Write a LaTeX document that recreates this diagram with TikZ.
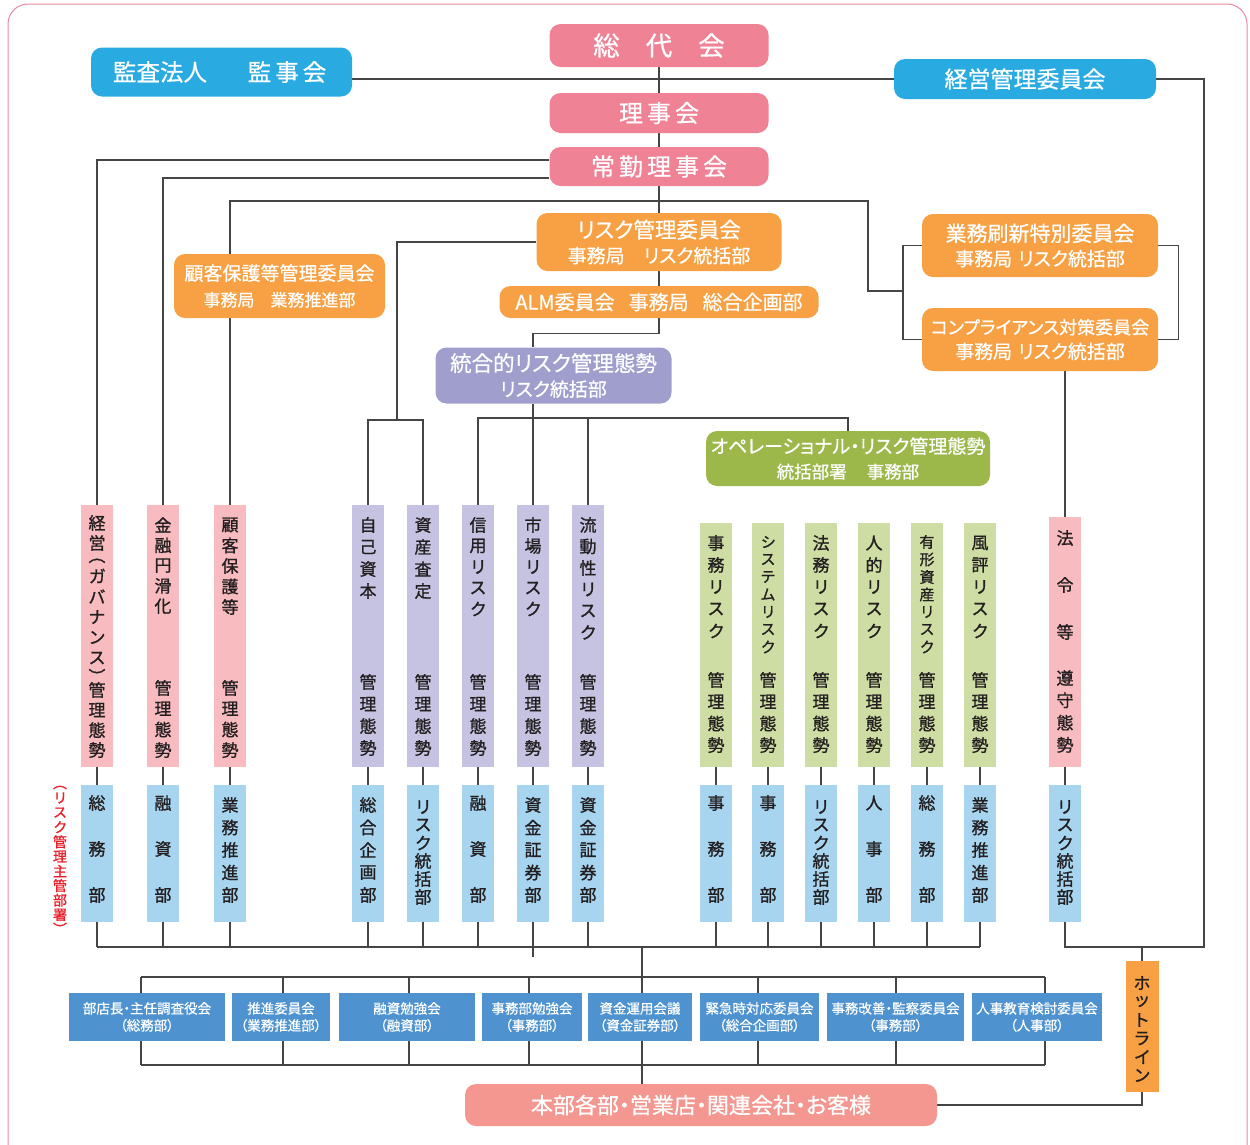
\documentclass[tikz,border=0pt]{standalone}
\usepackage{fontspec}
\setmainfont{Noto Sans CJK JP}[RawFeature=+palt,FakeBold=0.6]
\newfontfamily\vfam{Noto Sans CJK JP}[RawFeature=+palt,FakeBold=1.1]
\usetikzlibrary{backgrounds}
\definecolor{hpink}{HTML}{F08296}
\definecolor{hblue}{HTML}{29ABE2}
\definecolor{horange}{HTML}{F7A144}
\definecolor{hpurple}{HTML}{A09ECD}
\definecolor{hgreen}{HTML}{9CB84B}
\definecolor{cpink}{HTML}{F8BCC0}
\definecolor{cpurple}{HTML}{C5C3E1}
\definecolor{cgreen}{HTML}{CDDDA3}
\definecolor{cblue}{HTML}{A7D5F0}
\definecolor{kblue}{HTML}{4E93CF}
\definecolor{salmon}{HTML}{F49791}
\definecolor{framec}{HTML}{E98AA0}
\definecolor{lncol}{HTML}{454545}
\definecolor{txt}{HTML}{231F20}
\definecolor{redt}{HTML}{E8202A}
\newcommand\vcs[6][]{\foreach \vc [count=\vi] in {#6}{\node[vch,#1] (#2-\vi) at (#3,{#4+(\vi-1)*#5}) {\vc};}}
\begin{document}
\begin{tikzpicture}[x=1pt,y=-1pt,
 ln/.style={draw=lncol,line width=1.2pt},
 hdr/.style={rounded corners=11pt,inner sep=0pt,text=white,align=center},
 colbox/.style={inner sep=0pt,minimum width=32.5pt},
 upk/.style={colbox,fill=cpink,minimum height=262pt},
 upu/.style={colbox,fill=cpurple,minimum height=262pt},
 ugr/.style={colbox,fill=cgreen,minimum height=244pt},
 lbl/.style={colbox,fill=cblue,minimum height=137pt},
 vch/.style={inner sep=0pt,text=txt,font=\vfam\fontsize{17}{17}\selectfont},
 vsm/.style={font=\vfam\fontsize{15}{15}\selectfont},
 vpar/.style={vch,rotate=-90},
 kbox/.style={fill=kblue,inner sep=0pt,minimum height=48pt,text=white,align=center,font=\fontsize{13.5}{17}\selectfont}]
\useasboundingbox (0,0) rectangle (1250,1144);

% ---------- header boxes ----------
\node[hdr,fill=hpink,minimum width=219pt,minimum height=43pt,font=\fontsize{26.5}{26.5}\selectfont] (sodai) at (659,45.5) {総\hspace{26pt}代\hspace{26pt}会};
\node[hdr,fill=hblue,minimum width=261pt,minimum height=49pt] (kansa) at (221.5,72) {};
\node[inner sep=0pt,text=white,font=\fontsize{23.5}{23.5}\selectfont] (kansaL) at (160,72) {監査法人};
\node[inner sep=0pt,text=white,font=\fontsize{23.5}{23.5}\selectfont] (kansaR) at (287,72) {監\hspace{4pt}事\hspace{4pt}会};
\node[hdr,fill=hblue,minimum width=262pt,minimum height=40pt,font=\fontsize{23}{23}\selectfont] (keiei) at (1025,79) {経営管理委員会};
\node[hdr,fill=hpink,minimum width=219pt,minimum height=40pt,font=\fontsize{24}{24}\selectfont] (riji) at (659,113) {理\hspace{4pt}事\hspace{4pt}会};
\node[hdr,fill=hpink,minimum width=219pt,minimum height=39pt,font=\fontsize{24}{24}\selectfont] (jokin) at (659,166.5) {常\hspace{4pt}勤\hspace{4pt}理\hspace{4pt}事\hspace{4pt}会};
\node[hdr,fill=horange,minimum width=245pt,minimum height=58pt,font=\fontsize{21.5}{25}\selectfont] (riskc) at (659,242) {リスク管理委員会\\{\fontsize{19}{25}\selectfont 事務局\hspace{19pt}リスク統括部}};
\node[hdr,fill=horange,minimum width=319pt,minimum height=32pt,font=\fontsize{20}{20}\selectfont] (alm) at (659,302) {ALM委員会\hspace{14pt}事務局\hspace{14pt}総合企画部};
\node[hdr,fill=horange,minimum width=211pt,minimum height=64pt,font=\fontsize{19}{26}\selectfont] (kokyaku) at (279.5,286) {顧客保護等管理委員会\\{\fontsize{17}{26}\selectfont 事務局\hspace{16pt}業務推進部}};
\node[hdr,fill=hpurple,minimum width=236pt,minimum height=56pt,font=\fontsize{21.5}{25}\selectfont] (togo) at (553.5,375.5) {統合的リスク管理態勢\\{\fontsize{19}{25}\selectfont リスク統括部}};
\node[hdr,fill=hgreen,minimum width=284pt,minimum height=55pt,font=\fontsize{19}{25}\selectfont] (ope) at (848,458.5) {オペレーショナル・リスク管理態勢\\{\fontsize{17.5}{25}\selectfont 統括部署\hspace{20pt}事務部}};
\node[hdr,fill=horange,minimum width=236pt,minimum height=63pt,font=\fontsize{21}{24.5}\selectfont] (gyomu) at (1040,245.5) {業務刷新特別委員会\\{\fontsize{19}{24.5}\selectfont 事務局\hspace{6pt}リスク統括部}};
\node[hdr,fill=horange,minimum width=236pt,minimum height=63pt,font=\fontsize{18}{24.5}\selectfont] (comp) at (1040,339.5) {コンプライアンス対策委員会\\{\fontsize{19}{24.5}\selectfont 事務局\hspace{6pt}リスク統括部}};
\node[hdr,fill=salmon,minimum width=472pt,minimum height=42pt,font=\fontsize{22}{22}\selectfont] (honbu) at (701,1105) {本部各部・営業店・関連会社・お客様};

% ---------- upper columns ----------
\node[upk] (u1) at (97,636) {};
\node[upk] (u2) at (163,636) {};
\node[upk] (u3) at (230,636) {};
\node[upu] (u4) at (368,636) {};
\node[upu] (u5) at (423,636) {};
\node[upu] (u6) at (478,636) {};
\node[upu] (u7) at (533,636) {};
\node[upu] (u8) at (588,636) {};
\node[ugr] (u9) at (716,645) {};
\node[ugr] (u10) at (768,645) {};
\node[ugr] (u11) at (821,645) {};
\node[ugr] (u12) at (874,645) {};
\node[ugr] (u13) at (927,645) {};
\node[ugr] (u14) at (980,645) {};
\node[colbox,fill=cpink,minimum height=250pt] (u15) at (1065,642) {};
% ---------- lower columns ----------
\foreach \i/\x in {1/97,2/163,3/230,4/368,5/423,6/478,7/533,8/588,9/716,10/768,11/821,12/874,13/927,14/980,15/1065}{\node[lbl] (l\i) at (\x,853.5) {};}

% ---------- column texts ----------
\vcs{t1a}{97}{523}{20}{経,営}
\node[vpar] (t1p) at (97,559) {（};
\vcs{t1b}{97}{576}{20.5}{ガ,バ,ナ,ン,ス}
\node[vpar] (t1q) at (97,673) {）};
\vcs{t1c}{97}{690}{20}{管,理,態,勢}
\vcs{t2a}{163}{525}{20.3}{金,融,円,滑,化}
\vcs{t2b}{163}{688}{20.7}{管,理,態,勢}
\vcs{t3a}{230}{525}{20.5}{顧,客,保,護,等}
\vcs{t3b}{230}{688}{20.7}{管,理,態,勢}
\vcs{t4a}{368}{525}{22}{自,己,資,本}
\vcs{t4b}{368}{682}{22}{管,理,態,勢}
\vcs{t5a}{423}{525}{22}{資,産,査,定}
\vcs{t5b}{423}{682}{22}{管,理,態,勢}
\vcs{t6a}{478}{525}{21}{信,用,リ,ス,ク}
\vcs{t6b}{478}{682}{22}{管,理,態,勢}
\vcs{t7a}{533}{525}{21}{市,場,リ,ス,ク}
\vcs{t7b}{533}{682}{22}{管,理,態,勢}
\vcs{t8a}{588}{525}{21.5}{流,動,性,リ,ス,ク}
\vcs{t8b}{588}{682}{22}{管,理,態,勢}
\vcs{t9a}{716}{543}{22}{事,務,リ,ス,ク}
\vcs{t9b}{716}{680}{21.7}{管,理,態,勢}
\vcs[vsm]{t10a}{768}{542}{17.5}{シ,ス,テ,ム,リ,ス,ク}
\vcs{t10b}{768}{680}{21.7}{管,理,態,勢}
\vcs{t11a}{821}{543}{22}{法,務,リ,ス,ク}
\vcs{t11b}{821}{680}{21.7}{管,理,態,勢}
\vcs{t12a}{874}{543}{22}{人,的,リ,ス,ク}
\vcs{t12b}{874}{680}{21.7}{管,理,態,勢}
\vcs[vsm]{t13a}{927}{542}{17.5}{有,形,資,産,リ,ス,ク}
\vcs{t13b}{927}{680}{21.7}{管,理,態,勢}
\vcs{t14a}{980}{543}{22}{風,評,リ,ス,ク}
\vcs{t14b}{980}{680}{21.7}{管,理,態,勢}
\vcs{t15a}{1065}{538}{47}{法,令,等}
\vcs{t15b}{1065}{678}{22.3}{遵,守,態,勢}
% lower texts
\vcs{d1}{97}{803}{46}{総,務,部}
\vcs{d2}{163}{803}{46}{融,資,部}
\vcs{d3}{230}{805}{22.5}{業,務,推,進,部}
\vcs{d4}{368}{805}{22.5}{総,合,企,画,部}
\vcs{d5}{423}{807}{18}{リ,ス,ク,統,括,部}
\vcs{d6}{478}{803}{46}{融,資,部}
\vcs{d7}{533}{805}{22.5}{資,金,証,券,部}
\vcs{d8}{588}{805}{22.5}{資,金,証,券,部}
\vcs{d9}{716}{803}{46}{事,務,部}
\vcs{d10}{768}{803}{46}{事,務,部}
\vcs{d11}{821}{807}{18}{リ,ス,ク,統,括,部}
\vcs{d12}{874}{803}{46}{人,事,部}
\vcs{d13}{927}{803}{46}{総,務,部}
\vcs{d14}{980}{805}{22.5}{業,務,推,進,部}
\vcs{d15}{1065}{807}{18}{リ,ス,ク,統,括,部}
% red side label
\node[vpar,text=redt,font=\vfam\fontsize{14}{14}\selectfont] (redL) at (60,786) {（};
\vcs[text=redt,font=\vfam\fontsize{14}{14}\selectfont]{red}{60}{798}{14.6}{リ,ス,ク,管,理,主,管,部,署}
\node[vpar,text=redt,font=\vfam\fontsize{14}{14}\selectfont] (redR) at (60,926) {）};

% ---------- bottom committee boxes ----------
\node[kbox,minimum width=156pt] (k1) at (147,1017) {部店長・主任調査役会\\（総務部）};
\node[kbox,minimum width=98pt] (k2) at (281,1017) {推進委員会\\（業務推進部）};
\node[kbox,minimum width=136pt] (k3) at (407,1017) {融資勉強会\\（融資部）};
\node[kbox,minimum width=100pt] (k4) at (532,1017) {事務部勉強会\\（事務部）};
\node[kbox,minimum width=104pt] (k5) at (640,1017) {資金運用会議\\（資金証券部）};
\node[kbox,minimum width=119pt] (k6) at (759.5,1017) {緊急時対応委員会\\（総合企画部）};
\node[kbox,minimum width=137pt] (k7) at (895.5,1017) {事務改善・監察委員会\\（事務部）};
\node[kbox,minimum width=130pt] (k8) at (1037,1017) {人事教育検討委員会\\（人事部）};

% hotline
\node[fill=horange,inner sep=0pt,minimum width=33pt,minimum height=131pt] (hot) at (1142,1026.5) {};
\vcs{hotT}{1142}{983}{18.5}{ホ,ッ,ト,ラ,イ,ン}

% ---------- helper coordinates ----------
\coordinate (y160) at (0,160);
\coordinate (y178) at (0,178);
\coordinate (xr) at (868,201);
\coordinate (gb) at (903,291);
\coordinate (jb) at (397,420);
\coordinate (y418) at (0,418);
\coordinate (y420) at (0,420);
\coordinate (bus) at (0,947);
\coordinate (busc) at (642,947);
\coordinate (rb) at (1204,947);
\coordinate (bus2) at (0,977);
\coordinate (bus3) at (0,1065);
\foreach \n/\x in {1/141,2/283,3/409,4/529,5/642,6/758,7/896,8/1045}{\coordinate (kx\n) at (\x,1017);}

% ---------- connectors ----------
\begin{scope}[on background layer]
\draw[draw=framec,line width=1pt,rounded corners=20pt] (8,4) rectangle (1247,1170);
\draw[ln] (kansa.east |- keiei.west) -- (keiei.west);
\draw[ln] (sodai.south) -- (riji.north);
\draw[ln] (riji.south) -- (jokin.north);
\draw[ln] (jokin.south) -- (riskc.north);
\draw[ln] (riskc.south) -- (alm.north);
\draw[ln] (alm.south) -- ++(0,15) -| (togo.north -| u7.north);
\draw[ln] (togo.south -| u7.north) -- (u7.north);
\draw[ln] (u6.north) |- (ope.north |- y418) -- (ope.north);
\draw[ln] (u8.north) -- (u8.north |- y418);
\draw[ln] (u4.north) |- (u5.north |- y420) -- (u5.north);
\draw[ln] (riskc.west) -| (jb);
\draw[ln] (jokin.west |- y160) -| (u1.north);
\draw[ln] (jokin.west |- y178) -| (u2.north);
\draw[ln] (u3.north) |- (xr) |- (gb);
\draw[ln] (gyomu.west) -| (gb) |- (comp.west);
\draw[ln] (gyomu.east) -- ++(20,0) |- (comp.east);
\draw[ln] (comp.south -| u15.north) -- (u15.north);
\draw[ln] (keiei.east) -| (rb) -| (l15.south);
\draw[ln] (hot.north) -- (hot.north |- rb);
\draw[ln] (hot.south) |- (honbu.east);
\foreach \i in {1,...,15}{\draw[ln] (u\i.south) -- (l\i.north);}
\foreach \i in {1,...,14}{\draw[ln] (l\i.south) -- (l\i.south |- bus);}
\draw[ln] (l7.south) -- ++(0,35);
\draw[ln] (l1.south |- bus) -- (l14.south |- bus);
\draw[ln] (busc) -- (kx5 |- bus2);
\foreach \n in {1,...,8}{\draw[ln] (kx\n |- bus2) -- (kx\n |- bus3);}
\draw[ln] (kx1 |- bus2) -- (kx8 |- bus2);
\draw[ln] (kx1 |- bus3) -- (kx8 |- bus3);
\draw[ln] (kx5 |- bus3) -- (kx5 |- honbu.north);
\draw[white,line width=2pt] (kansa.north -| 222,0) -- (kansa.south -| 222,0);
\end{scope}
\end{tikzpicture}
\end{document}
